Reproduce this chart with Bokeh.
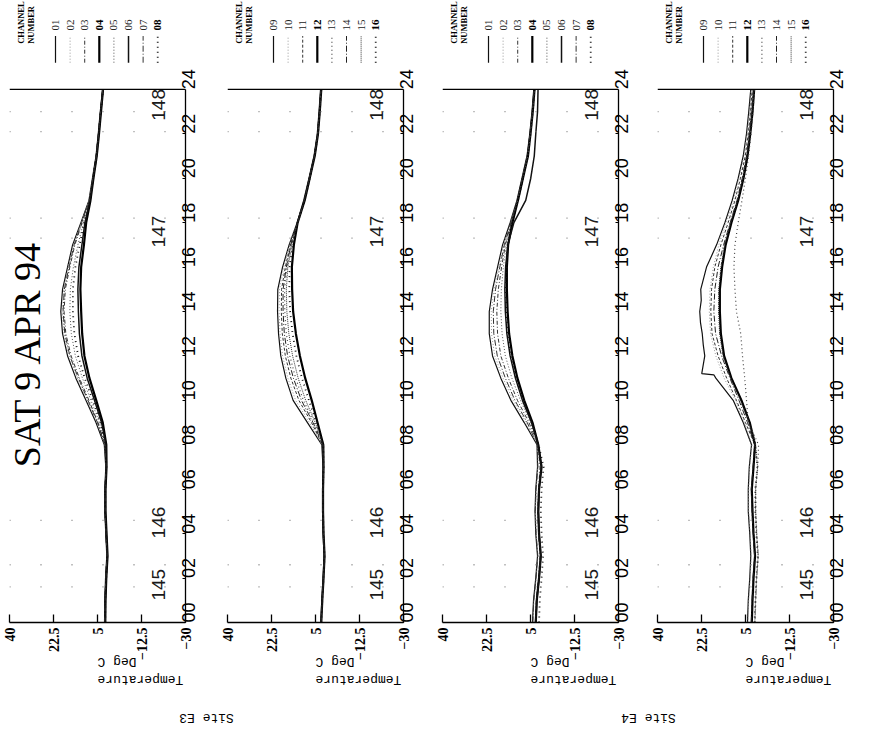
import math
from bokeh.plotting import figure
from bokeh.models import Range1d, LinearAxis, FixedTicker, Span, Label
from bokeh.layouts import row, column
from bokeh.embed import file_html
from bokeh.resources import INLINE
from bokeh.core.properties import value

# ---------------- data ----------------
title_text = "SAT 9 APR 94"
sites = ["Site E3", "Site E4"]
hours = list(range(25))
hour_ticks = [0, 2, 4, 6, 8, 10, 12, 14, 16, 18, 20, 22, 24]
hour_labels = ["00", "02", "04", "06", "08", "10", "12", "14", "16", "18", "20", "22", "24"]
temp_ticks = [40, 22.5, 5, -12.5, -30]
temp_labels = ["40", "22.5", "5", "\u221212.5", "\u221230"]
day_labels = ["145", "146", "147", "148"]
day_label_hours = [1.7, 4.5, 17.6, 23.3]
dot_row_hours = [1.6, 2.6, 4.6, 17.3, 18.2, 22.1, 23.0]
channels_a = ["01", "02", "03", "04", "05", "06", "07", "08"]
channels_b = ["09", "10", "11", "12", "13", "14", "15", "16"]

# Site E3, channels 01-08 (deg C, hourly 00..24)
e3_ch01 = [2.2, 2.1, 1.8, 1.3, 1.7, 2.1, 2.1, 1.7, 2.3, 5.6, 9.6, 13.6, 16.9, 18.9, 19.6, 18.9, 16.9, 14.9, 11.6, 8.4, 7.0, 5.6, 4.7, 3.9, 3.0]
e3_ch02 = [2.0, 2.0, 1.6, 1.2, 1.6, 2.0, 2.0, 1.6, 2.1, 5.2, 9.1, 13.0, 16.4, 18.4, 19.0, 18.5, 16.6, 14.5, 11.4, 8.3, 6.9, 5.5, 4.6, 3.8, 2.9]
e3_ch03 = [2.1, 2.0, 1.7, 1.2, 1.6, 2.0, 2.0, 1.6, 2.0, 4.8, 8.4, 12.2, 15.5, 17.6, 18.3, 17.8, 16.0, 14.0, 11.1, 8.2, 6.9, 5.5, 4.6, 3.8, 2.9]
e3_ch04 = [1.9, 1.8, 1.5, 1.0, 1.4, 1.8, 1.8, 1.4, 1.5, 2.9, 5.5, 8.2, 10.2, 11.1, 11.5, 11.8, 11.5, 10.4, 9.5, 7.8, 6.6, 5.3, 4.4, 3.6, 2.8]
e3_ch05 = [2.0, 1.9, 1.6, 1.1, 1.5, 1.9, 1.9, 1.5, 1.8, 4.2, 7.6, 11.0, 13.8, 15.4, 16.0, 15.8, 14.6, 12.8, 10.6, 8.0, 6.8, 5.4, 4.5, 3.7, 2.9]
e3_ch06 = [2.0, 1.9, 1.6, 1.1, 1.5, 1.9, 1.9, 1.5, 1.6, 3.4, 6.2, 9.1, 11.2, 12.2, 12.6, 12.8, 12.4, 11.2, 10.0, 8.0, 6.7, 5.4, 4.5, 3.7, 2.8]
e3_ch07 = [2.1, 2.0, 1.7, 1.2, 1.6, 2.0, 2.0, 1.6, 2.1, 5.0, 8.8, 12.6, 16.0, 18.0, 18.7, 18.2, 16.3, 14.3, 11.3, 8.3, 6.9, 5.5, 4.6, 3.8, 2.9]
e3_ch08 = [1.9, 1.9, 1.5, 1.1, 1.5, 1.9, 1.9, 1.5, 1.7, 3.8, 6.9, 10.1, 12.7, 14.2, 14.8, 14.8, 13.8, 12.1, 10.3, 7.9, 6.7, 5.4, 4.5, 3.7, 2.8]

# Site E3, channels 09-16
e3_ch09 = [2.9, 2.5, 2.0, 1.6, 2.0, 2.2, 2.2, 2.0, 2.5, 8.2, 13.9, 16.8, 18.8, 19.7, 20.1, 20.0, 18.1, 15.5, 12.3, 9.7, 7.6, 5.6, 4.3, 3.6, 3.0]
e3_ch10 = [2.8, 2.4, 1.9, 1.5, 1.9, 2.1, 2.1, 1.9, 2.3, 7.4, 12.9, 16.0, 18.1, 19.1, 19.5, 19.3, 17.6, 15.3, 12.2, 9.6, 7.5, 5.5, 4.2, 3.5, 2.9]
e3_ch11 = [2.8, 2.4, 1.9, 1.5, 1.9, 2.1, 2.1, 1.9, 2.2, 6.6, 11.6, 14.8, 17.0, 18.2, 18.6, 18.5, 17.0, 15.0, 12.2, 9.5, 7.5, 5.5, 4.2, 3.5, 2.9]
e3_ch12 = [2.7, 2.3, 1.8, 1.4, 1.8, 2.0, 2.0, 1.8, 1.9, 4.2, 6.5, 9.1, 11.2, 12.8, 13.9, 14.3, 14.4, 13.6, 12.1, 9.3, 7.3, 5.3, 4.0, 3.3, 2.7]
e3_ch13 = [2.8, 2.4, 1.9, 1.5, 1.9, 2.1, 2.1, 1.9, 2.0, 5.6, 9.8, 12.9, 15.2, 16.6, 17.2, 17.3, 16.3, 14.6, 12.2, 9.5, 7.4, 5.4, 4.1, 3.4, 2.8]
e3_ch14 = [2.8, 2.4, 1.9, 1.5, 1.9, 2.1, 2.1, 1.9, 2.1, 6.0, 10.6, 13.8, 16.1, 17.4, 17.9, 17.9, 16.6, 14.8, 12.2, 9.5, 7.4, 5.4, 4.1, 3.4, 2.8]
e3_ch15 = [2.7, 2.3, 1.8, 1.4, 1.8, 2.0, 2.0, 1.8, 2.0, 5.1, 8.9, 11.9, 14.1, 15.6, 16.4, 16.6, 16.0, 14.3, 12.1, 9.4, 7.4, 5.4, 4.1, 3.4, 2.8]
e3_ch16 = [2.7, 2.3, 1.8, 1.4, 1.8, 2.0, 2.0, 1.8, 1.9, 4.6, 7.6, 10.4, 12.6, 14.1, 15.1, 15.4, 15.3, 14.0, 12.1, 9.3, 7.3, 5.3, 4.0, 3.3, 2.7]

# Site E4, channels 01-08
e4_ch01 = [4.2, 3.8, 2.9, 2.2, 2.9, 3.2, 2.9, 2.2, 2.4, 7.5, 12.8, 16.8, 20.1, 21.4, 21.4, 20.1, 18.1, 16.1, 13.1, 10.4, 8.4, 6.4, 5.3, 4.4, 3.7]
e4_ch02 = [4.0, 3.6, 2.7, 2.0, 2.7, 3.0, 2.7, 2.0, 2.2, 6.8, 11.9, 15.9, 19.2, 20.5, 20.6, 19.5, 17.6, 15.7, 12.9, 10.3, 8.3, 6.3, 5.2, 4.3, 3.6]
e4_ch03 = [3.1, 2.7, 1.8, 1.2, 1.8, 2.1, 1.8, 1.2, 2.0, 5.6, 10.2, 13.8, 16.8, 18.1, 18.4, 17.8, 16.5, 15.0, 12.7, 10.2, 8.2, 6.2, 5.1, 4.2, 3.5]
e4_ch04 = [2.9, 2.5, 1.6, 0.9, 1.6, 1.9, 1.6, 0.6, 1.9, 4.2, 7.5, 10.2, 12.2, 13.5, 14.1, 14.4, 14.4, 13.9, 12.2, 10.0, 8.0, 6.0, 5.0, 4.1, 3.4]
e4_ch05 = [3.0, 2.6, 1.7, 1.0, 1.7, 2.0, 1.7, 1.0, 2.0, 5.0, 9.0, 12.4, 15.0, 16.3, 16.8, 16.6, 15.8, 14.6, 12.6, 10.1, 8.1, 6.1, 5.0, 4.1, 3.4]
e4_ch06 = [2.9, 2.5, 1.6, 0.9, 1.6, 1.9, 1.6, 0.7, 1.9, 4.6, 8.2, 11.0, 13.1, 14.4, 15.0, 15.2, 14.9, 14.0, 11.6, 6.9, 4.9, 3.5, 2.9, 2.2, 2.0]
e4_ch07 = [4.1, 3.7, 2.8, 2.1, 2.8, 3.1, 2.8, 2.1, 2.3, 6.3, 11.2, 15.0, 18.2, 19.6, 19.8, 18.9, 17.2, 15.4, 12.8, 10.3, 8.3, 6.3, 5.2, 4.3, 3.6]
e4_ch08 = [1.6, 1.3, 0.6, 0.0, 0.6, 0.9, 0.6, -0.2, 1.8, 4.4, 7.9, 10.7, 12.8, 14.0, 14.6, 14.8, 14.6, 14.0, 12.3, 10.0, 8.0, 6.0, 5.0, 4.1, 3.4]

# Site E4, channels 09-16 (channel 09 has its own time stamps around the 11h jump)
e4_ch09_hours = [0, 1, 2, 3, 4, 5, 6, 7, 8, 9, 10, 11, 11.15, 11.2, 12, 12.5, 13, 13.5, 14, 14.5, 15, 16, 17, 18, 19, 20, 21, 22, 23, 24]
e4_ch09 = [4.2, 3.9, 3.3, 2.9, 3.3, 3.9, 3.9, 3.5, 2.6, 5.9, 9.9, 16.8, 17.6, 22.4, 21.2, 21.8, 22.2, 22.9, 23.2, 22.6, 22.8, 20.5, 16.5, 13.2, 10.3, 7.9, 5.9, 4.6, 3.7, 2.9]
e4_ch10 = [4.0, 3.7, 3.1, 2.7, 3.1, 3.7, 3.7, 3.3, 2.4, 5.5, 9.0, 13.5, 16.8, 18.9, 19.4, 19.1, 17.8, 15.6, 12.6, 9.8, 7.6, 5.6, 4.3, 3.4, 2.7]
e4_ch11 = [2.6, 2.3, 1.9, 1.3, 1.9, 2.3, 2.6, 1.9, 1.3, 5.0, 8.6, 12.5, 15.9, 18.3, 18.8, 18.5, 17.2, 14.8, 11.9, 9.2, 7.0, 5.1, 3.9, 3.0, 2.35]
e4_ch12 = [2.5, 2.2, 1.8, 1.2, 1.8, 2.2, 2.5, 1.8, 1.2, 3.3, 6.6, 10.6, 13.5, 14.8, 15.2, 15.2, 14.3, 12.9, 10.6, 7.9, 5.8, 4.2, 3.1, 2.2, 1.55]
e4_ch13 = [1.2, 0.9, 0.5, -0.1, 0.5, 0.9, 0.9, 0.1, -0.2, 3.9, 4.6, 5.3, 6.2, 6.9, 8.6, 9.2, 9.6, 9.2, 7.9, 6.4, 5.0, 3.8, 2.8, 2.0, 1.4]
e4_ch14 = [2.7, 2.4, 2.0, 1.4, 2.0, 2.4, 2.7, 2.0, 1.4, 4.2, 7.6, 11.2, 14.5, 16.9, 17.6, 17.2, 15.9, 13.7, 11.1, 8.4, 6.3, 4.6, 3.5, 2.6, 1.9]
e4_ch15 = [1.3, 1.0, 0.6, -0.04, 0.6, 1.0, 1.0, 0.2, 1.0, 3.6, 7.0, 10.9, 13.9, 15.3, 15.7, 15.6, 14.8, 13.3, 10.9, 8.1, 6.0, 4.4, 3.3, 2.4, 1.7]
e4_ch16 = [1.4, 1.1, 0.7, 0.1, 0.7, 1.1, 1.1, 0.3, 1.1, 3.4, 6.8, 10.7, 13.7, 15.0, 15.4, 15.4, 14.6, 13.1, 10.8, 8.0, 5.9, 4.3, 3.2, 2.3, 1.6]

# ---------------- styles ----------------
styles_a = [
    dict(line_color="#111111", line_width=1.2, line_dash="solid"),
    dict(line_color="#9a9a9a", line_width=1.0, line_dash="1 2"),
    dict(line_color="#333333", line_width=1.0, line_dash="4 2 1 2"),
    dict(line_color="#000000", line_width=2.2, line_dash="solid"),
    dict(line_color="#555555", line_width=1.0, line_dash="1 2"),
    dict(line_color="#111111", line_width=1.5, line_dash="solid"),
    dict(line_color="#333333", line_width=1.0, line_dash="6 2 1 2"),
    dict(line_color="#111111", line_width=1.8, line_dash="1 4"),
]
styles_b = [
    dict(line_color="#111111", line_width=1.2, line_dash="solid"),
    dict(line_color="#9a9a9a", line_width=1.0, line_dash="1 2"),
    dict(line_color="#333333", line_width=1.0, line_dash="3 2"),
    dict(line_color="#000000", line_width=2.2, line_dash="solid"),
    dict(line_color="#444444", line_width=1.2, line_dash="1 3"),
    dict(line_color="#222222", line_width=1.0, line_dash="6 2 1 2"),
    dict(line_color="#333333", line_width=1.0, line_dash="1 1"),
    dict(line_color="#111111", line_width=1.8, line_dash="1 4"),
]

MONO = value("Liberation Mono")
SERIF = value("Liberation Serif")
SANS = value("Liberation Sans")


def make_panel(width, b_left, b_right, names, series, styles, with_title=False):
    p = figure(width=width, height=706, x_range=Range1d(40, -30), y_range=Range1d(0, 28.0),
               output_backend="svg", toolbar_location=None,
               x_axis_location=None, y_axis_location=None,
               min_border_left=b_left, min_border_right=b_right,
               min_border_top=0, min_border_bottom=84)
    p.outline_line_color = None
    p.xgrid.grid_line_color = None
    p.ygrid.grid_line_color = None
    p.background_fill_color = "white"
    p.border_fill_color = "white"

    xax = LinearAxis(ticker=FixedTicker(ticks=temp_ticks),
                     major_label_overrides=dict(zip(temp_ticks, temp_labels)),
                     major_label_orientation=math.pi / 2,
                     major_tick_in=8, major_tick_out=0,
                     minor_tick_line_color=None,
                     axis_line_width=1.3, major_tick_line_width=1.3,
                     major_label_standoff=5,
                     major_label_text_font="Liberation Serif",
                     major_label_text_font_style="bold",
                     major_label_text_font_size="14px",
                     major_label_text_color="black",
                     axis_label="Temperature\nDeg C",
                     axis_label_orientation=math.pi,
                     axis_label_standoff=8,
                     axis_label_text_font="Liberation Mono",
                     axis_label_text_font_style="normal",
                     axis_label_text_font_size="13px",
                     axis_label_text_color="black")
    p.add_layout(xax, "below")

    yax = LinearAxis(bounds=(0, 24), ticker=FixedTicker(ticks=hour_ticks),
                     major_label_overrides=dict(zip(hour_ticks, hour_labels)),
                     major_label_orientation=math.pi / 2,
                     major_tick_in=3, major_tick_out=0,
                     minor_tick_line_color=None,
                     axis_line_width=1.3, major_tick_line_width=1.0,
                     major_label_standoff=3,
                     major_label_text_font="Liberation Sans",
                     major_label_text_font_size="18px",
                     major_label_text_color="black")
    p.add_layout(yax, "right")

    # closing line at 24 h and sparse dotted rows
    p.add_layout(Span(location=24, dimension="width", line_color="black", line_width=1.3))
    for h in dot_row_hours:
        p.add_layout(Span(location=h, dimension="width", line_color="#808080",
                          line_width=1.3, line_dash="1 30"))

    # channel curves
    for (hx, vals), st in zip(series, styles):
        p.line(x=vals, y=hx, **st)

    # day-number annotations
    p.text(x=[-19.3] * len(day_labels), y=day_label_hours, text=day_labels,
           angle=math.pi / 2, text_align="center", text_baseline="middle",
           text_font=SANS, text_font_size="19px", text_color="#1a1a1a")

    # rotated legend
    lx = [40 - (46 + 14.6 * i) / 2.514 for i in range(len(names))]
    for x, st in zip(lx, styles):
        p.segment(x0=x, y0=25.2, x1=x, y1=26.4, **st)
    norm_idx = [i for i in range(len(names)) if i not in (3, 7)]
    bold_idx = [3, 7]
    p.text(x=[lx[i] for i in norm_idx], y=[26.65] * len(norm_idx),
           text=[names[i] for i in norm_idx], angle=math.pi / 2,
           text_align="left", text_baseline="middle",
           text_font=SERIF, text_font_size="11px", text_color="#222222")
    p.text(x=[lx[i] for i in bold_idx], y=[26.65] * len(bold_idx),
           text=[names[i] for i in bold_idx], angle=math.pi / 2,
           text_align="left", text_baseline="middle",
           text_font=SERIF, text_font_style="bold", text_font_size="11px", text_color="black")
    p.text(x=[35.6, 31.6], y=[26.05, 26.05], text=["CHANNEL", "NUMBER"], angle=math.pi / 2,
           text_align="left", text_baseline="middle",
           text_font=SERIF, text_font_style="bold", text_font_size="8.5px", text_color="black")

    if with_title:
        p.add_layout(Label(x=33.0, y=12.1, text=title_text, angle=math.pi / 2,
                           text_align="center", text_baseline="alphabetic",
                           text_font="Liberation Serif", text_font_size="38px",
                           text_color="black"))
    return p


h = hours
p1 = make_panel(218, 9, 33, channels_a,
                [(h, e3_ch01), (h, e3_ch02), (h, e3_ch03), (h, e3_ch04),
                 (h, e3_ch05), (h, e3_ch06), (h, e3_ch07), (h, e3_ch08)], styles_a, with_title=True)
p2 = make_panel(215, 9, 30, channels_b,
                [(h, e3_ch09), (h, e3_ch10), (h, e3_ch11), (h, e3_ch12),
                 (h, e3_ch13), (h, e3_ch14), (h, e3_ch15), (h, e3_ch16)], styles_b)
p3 = make_panel(216, 9, 31, channels_a,
                [(h, e4_ch01), (h, e4_ch02), (h, e4_ch03), (h, e4_ch04),
                 (h, e4_ch05), (h, e4_ch06), (h, e4_ch07), (h, e4_ch08)], styles_a)
p4 = make_panel(209, 8, 25, channels_b,
                [(e4_ch09_hours, e4_ch09), (h, e4_ch10), (h, e4_ch11), (h, e4_ch12),
                 (h, e4_ch13), (h, e4_ch14), (h, e4_ch15), (h, e4_ch16)], styles_b)

footer = figure(width=858, height=18, x_range=Range1d(8, 866), y_range=Range1d(0, 18),
                output_backend="svg", toolbar_location=None,
                x_axis_location=None, y_axis_location=None,
                min_border=0)
footer.outline_line_color = None
footer.xgrid.grid_line_color = None
footer.ygrid.grid_line_color = None
footer.text(x=[214, 656], y=[7, 7], text=sites, angle=math.pi,
            text_align="center", text_baseline="middle",
            text_font=MONO, text_font_size="13px", text_color="black")

layout = column(row(p1, p2, p3, p4), footer)
open("out.html", "w").write(file_html(layout, INLINE))
